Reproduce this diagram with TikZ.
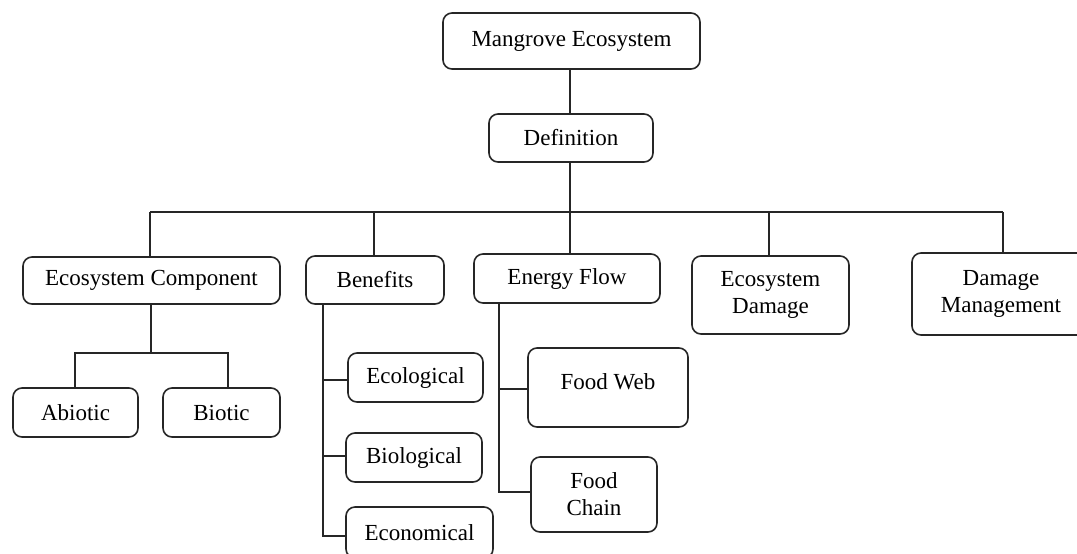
\documentclass[tikz,border=0pt]{standalone}
\usepackage{fontspec}
\setmainfont{Liberation Serif}
\begin{document}
\begin{tikzpicture}[x=0.5pt,y=-0.5pt,
  box/.style={draw=black!85, line width=0.8pt, rounded corners=4.5pt, inner sep=0pt,
    align=center, font=\fontsize{11.5}{13.5}\selectfont},
  link/.style={draw=black!85, line width=0.8pt}]
\useasboundingbox (0,0) rectangle (1077,553);
\clip (0,0) rectangle (1077,553);
% nodes
\node[box, minimum width=128.5pt, minimum height=28pt] (top) at (571.5,41) {\raisebox{1pt}{Mangrove Ecosystem}};
\node[box, minimum width=82pt, minimum height=24pt] (def) at (571,138) {Definition};
\node[box, minimum width=128.5pt, minimum height=23.5pt] (ec) at (151.5,280.5) {Ecosystem Component};
\node[box, minimum width=69pt, minimum height=24pt] (ben) at (375,280) {Benefits};
\node[box, minimum width=93pt, minimum height=24.5pt] (ef) at (567,278.5) {Energy Flow};
\node[box, minimum width=78.5pt, minimum height=39pt] (ed) at (770.5,295) {Ecosystem\\Damage};
\node[box, minimum width=89pt, minimum height=41pt] (dm) at (1001,294) {Damage\\Management};
\node[box, minimum width=62.5pt, minimum height=24.5pt] (abi) at (75.5,412.5) {Abiotic};
\node[box, minimum width=58.5pt, minimum height=24.5pt] (bio) at (221.5,412.5) {Biotic};
\node[box, minimum width=67.5pt, minimum height=24.5pt] (eco) at (415.5,377.5) {Ecological};
\node[box, minimum width=68pt, minimum height=24.5pt] (biol) at (414,457.5) {Biological};
\node[box, minimum width=73.5pt, minimum height=25.5pt] (econ) at (419.5,532.5) {Economical};
\node[box, minimum width=80pt, minimum height=39.5pt] (fw) at (608,387.5) {\raisebox{5.5pt}{Food Web}};
\node[box, minimum width=63pt, minimum height=37.5pt] (fc) at (594,494.5) {Food\\Chain};
% bus coordinates
\coordinate (bl) at (150,212);
\coordinate (br) at (1003,212);
\coordinate (b2) at (374,212);
\coordinate (b3) at (570,212);
\coordinate (b4) at (769,212);
\coordinate (ecj) at (151,353);
\coordinate (ecl) at (75,353);
\coordinate (ecr) at (228,353);
\coordinate (benx) at (323,304);
\coordinate (efx) at (499,303);
% connectors
\draw[link] (top.south -| b3) -- (def.north -| b3);
\draw[link] (def.south -| b3) -- (b3);
\draw[link] (bl) -- (br);
\draw[link] (bl) -- (bl |- ec.north);
\draw[link] (b2) -- (b2 |- ben.north);
\draw[link] (b3) -- (b3 |- ef.north);
\draw[link] (b4) -- (b4 |- ed.north);
\draw[link] (br) -- (br |- dm.north);
\draw[link] (ec.south -| ecj) -- (ecj);
\draw[link] (ecl |- abi.north) -- (ecl) -- (ecr) -- (ecr |- bio.north);
\draw[link] (benx) -- (benx |- 0,536) -- (econ.west |- 0,536);
\draw[link] (benx |- 0,380) -- (eco.west |- 0,380);
\draw[link] (benx |- 0,456) -- (biol.west |- 0,456);
\draw[link] (efx) -- (efx |- 0,492) -- (fc.west |- 0,492);
\draw[link] (efx |- 0,389) -- (fw.west |- 0,389);
\end{tikzpicture}
\end{document}
